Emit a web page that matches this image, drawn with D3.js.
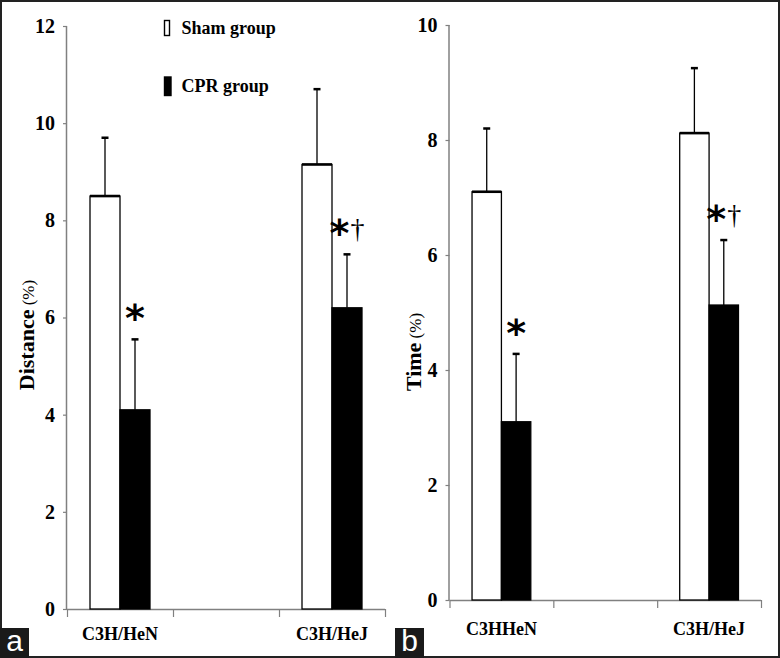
<!DOCTYPE html>
<html>
<head>
<meta charset="utf-8">
<script src="https://cdn.jsdelivr.net/npm/d3@7"></script>
<style>
  html, body { margin: 0; padding: 0; background: #fff; }
  svg { display: block; }
</style>
</head>
<body>
<svg id="chart" width="780" height="658"></svg>
<script>
// ---------- data ----------
const series = ["Sham group", "CPR group"];
const categoriesA = ["C3H/HeN", "gap", "C3H/HeJ"];
const categoriesB = ["C3HHeN", "gap", "C3H/HeJ"];

// Panel a: Distance (%)
const distanceSham = [8.5, null, 9.15];
const distanceShamSD = [1.2, null, 1.55];
const distanceCPR = [4.1, null, 6.2];
const distanceCPRSD = [1.45, null, 1.1];
const distanceMarks = ["*", null, "*†"];
const distanceTicks = [0, 2, 4, 6, 8, 10, 12];

// Panel b: Time (%)
const timeSham = [7.1, null, 8.12];
const timeShamSD = [1.1, null, 1.13];
const timeCPR = [3.1, null, 5.13];
const timeCPRSD = [1.18, null, 1.13];
const timeMarks = ["*", null, "*†"];
const timeTicks = [0, 2, 4, 6, 8, 10];

// ---------- drawing ----------
const svg = d3.select("#chart");
const serif = "'Liberation Serif', 'Times New Roman', serif";
const axisColor = "#808080";

// outer frame
svg.append("rect").attr("x", 1).attr("y", 1).attr("width", 778).attr("height", 656)
  .attr("fill", "none").attr("stroke", "#222").attr("stroke-width", 2);

function panel(opt) {
  const g = svg.append("g");
  const y = d3.scaleLinear().domain([0, opt.yMax]).range([opt.y0, opt.y1]);
  const xLin = d3.scaleLinear().domain([0, opt.categories.length]).range([opt.x0, opt.x1]);
  const xBand = d3.scaleBand().domain(opt.categories).range([opt.x0, opt.x1]).padding(0);
  const bw = xBand.bandwidth();
  const barW = bw * 0.283;
  const xS = d3.scaleBand().domain(series).range([bw / 2 - barW, bw / 2 + barW]).padding(0);

  // y axis
  const ya = g.append("g").attr("transform", `translate(${opt.x0},0)`)
    .call(d3.axisLeft(y).tickValues(opt.ticks).tickSize(4).tickPadding(8).tickFormat(d3.format("d")));
  ya.select(".domain").attr("stroke", axisColor).attr("stroke-width", 1.5).attr("d", `M-0.5,${opt.y0}V${opt.y1}`);
  ya.selectAll(".tick line").attr("stroke", axisColor).attr("stroke-width", 1.2);
  ya.selectAll(".tick text").attr("font-family", serif).attr("font-weight", "bold")
    .attr("font-size", 20).attr("fill", "#000");

  // x axis: boundary ticks
  const xa = g.append("g").attr("transform", `translate(0,${opt.y0})`)
    .call(d3.axisBottom(xLin).tickValues(d3.range(opt.categories.length + 1)).tickSize(8).tickFormat(""));
  xa.select(".domain").attr("stroke", axisColor).attr("stroke-width", 1.5).attr("d", `M${opt.x0},0.5H${opt.x1}`);
  xa.selectAll(".tick line").attr("stroke", axisColor).attr("stroke-width", 1.2);

  // x labels at band centres
  const xl = g.append("g").attr("transform", `translate(0,${opt.y0})`)
    .call(d3.axisBottom(xBand).tickSize(0).tickPadding(opt.labelPad).tickFormat(d => d === "gap" ? "" : d));
  xl.select(".domain").remove();
  xl.selectAll(".tick text").attr("font-family", serif).attr("font-weight", "bold")
    .attr("font-size", 18).attr("fill", "#000");

  // data rows
  const rows = opt.categories.map((c, i) => ({
    cat: c,
    vals: [
      { s: series[0], v: opt.sham[i], sd: opt.shamSD[i] },
      { s: series[1], v: opt.cpr[i], sd: opt.cprSD[i] }
    ],
    mark: opt.marks[i]
  })).filter(r => r.vals[0].v != null);

  rows.forEach(r => {
    const gx = xBand(r.cat);
    r.vals.forEach(d => {
      const bx = gx + xS(d.s), w = xS.bandwidth();
      const isSham = d.s === series[0];
      const cx = bx + w / 2;
      // error bar
      g.append("line").attr("x1", cx).attr("x2", cx).attr("y1", y(d.v)).attr("y2", y(d.v + d.sd))
        .attr("stroke", "#000").attr("stroke-width", 1.3);
      g.append("line").attr("x1", cx - 3.5).attr("x2", cx + 3.5).attr("y1", y(d.v + d.sd)).attr("y2", y(d.v + d.sd))
        .attr("stroke", "#000").attr("stroke-width", 2.5);
      // bar
      g.append("rect").attr("x", bx).attr("y", y(d.v)).attr("width", w).attr("height", y(0) - y(d.v))
        .attr("fill", isSham ? "#fff" : "#000").attr("stroke", "#000").attr("stroke-width", 1.3);
      if (isSham) {
        g.append("line").attr("x1", bx).attr("x2", bx + w).attr("y1", y(d.v)).attr("y2", y(d.v))
          .attr("stroke", "#000").attr("stroke-width", 2.6);
      }
    });
    // significance marks above CPR bar
    const cpr = r.vals[1];
    const cx = gx + xS(cpr.s) + xS.bandwidth() / 2;
    const t = g.append("text").attr("x", cx).attr("y", y(cpr.v + cpr.sd) - 8)
      .attr("text-anchor", "middle").attr("fill", "#000");
    t.append("tspan").attr("font-family", "'DejaVu Sans', sans-serif").attr("font-weight", "bold")
      .attr("font-size", 38).text("*");
    if (r.mark.length > 1) {
      t.append("tspan").attr("font-family", serif).attr("font-size", 28).attr("dx", 1).attr("dy", -8).text(r.mark.slice(1));
    }
  });

  // y title
  const yt = g.append("text")
    .attr("transform", `translate(${opt.titleX},${opt.titleY}) rotate(-90)`)
    .attr("text-anchor", "middle").attr("fill", "#000").attr("font-family", serif);
  yt.append("tspan").attr("font-weight", "bold").attr("font-size", 22).text(opt.title);
  yt.append("tspan").attr("font-size", 17).text(" (%)");

  // panel letter
  svg.append("rect").attr("x", opt.letterX).attr("y", 628).attr("width", 29).attr("height", 30).attr("fill", "#1a1a1a");
  svg.append("text").attr("x", opt.letterX + 14.5).attr("y", 651).attr("text-anchor", "middle")
    .attr("font-family", "'Liberation Sans', Arial, sans-serif").attr("font-size", 30).attr("fill", "#fff").text(opt.letter);

  return { g, y };
}

panel({
  categories: categoriesA, sham: distanceSham, shamSD: distanceShamSD, cpr: distanceCPR, cprSD: distanceCPRSD,
  marks: distanceMarks, ticks: distanceTicks, yMax: 12,
  x0: 67, x1: 385, y0: 609, y1: 26, labelPad: 18,
  title: "Distance", titleX: 34, titleY: 335, letter: "a", letterX: 0
});

panel({
  categories: categoriesB, sham: timeSham, shamSD: timeShamSD, cpr: timeCPR, cprSD: timeCPRSD,
  marks: timeMarks, ticks: timeTicks, yMax: 10,
  x0: 449.5, x1: 761, y0: 600, y1: 25, labelPad: 22,
  title: "Time", titleX: 421, titleY: 352, letter: "b", letterX: 395
});

// legend (panel a)
const legend = svg.append("g");
series.forEach((s, i) => {
  const ly = [20.5, 77][i];
  const lh = [15, 18.5][i];
  legend.append("rect").attr("x", 164.5).attr("y", ly).attr("width", i === 0 ? 5 : 6.5).attr("height", lh)
    .attr("fill", i === 0 ? "#fff" : "#000").attr("stroke", "#000").attr("stroke-width", 1.4);
  legend.append("text").attr("x", 181.5).attr("y", [34, 92][i])
    .attr("font-family", serif).attr("font-weight", "bold").attr("font-size", 18).attr("fill", "#000").text(s);
});
</script>
</body>
</html>
